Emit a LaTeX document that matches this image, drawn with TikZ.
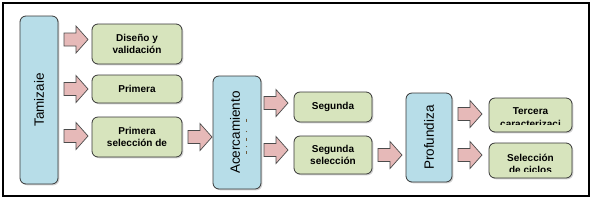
\documentclass[tikz,border=0pt]{standalone}
\usepackage{fontspec}
\setmainfont{Liberation Sans}
\usetikzlibrary{shadows}
\definecolor{bluefill}{RGB}{183,221,232}
\definecolor{greenfill}{RGB}{215,228,189}
\definecolor{pinkfill}{RGB}{230,185,184}
\definecolor{edgecol}{RGB}{55,55,55}
\definecolor{arrowedge}{RGB}{75,75,75}
\definecolor{markcol}{RGB}{110,90,60}
\tikzset{pics/blockarrow/.style={code={
  \draw[barrow] (0,-6.5)--(12,-6.5)--(12,-13.5)--(24,0)--(12,13.5)--(12,6.5)--(0,6.5)--cycle;}}}
\begin{document}
\begin{tikzpicture}[x=1pt,y=-1pt,
 boxbase/.style={draw=edgecol, line width=0.8pt, rounded corners=6pt,
   drop shadow={shadow xshift=1.3pt,shadow yshift=-1.3pt,opacity=0.35},
   inner sep=0pt, align=center},
 bluebox/.style={boxbase, fill=bluefill},
 greenbox/.style={boxbase, fill=greenfill, font=\fontsize{10}{12.5}\selectfont\bfseries},
 gtext/.style={inner sep=0pt, align=center, font=\fontsize{10}{12.5}\selectfont\bfseries},
 vlabel/.style={rotate=90, inner sep=0pt, font=\fontsize{13.5}{16}\selectfont},
 barrow/.style={draw=arrowedge, fill=pinkfill, line width=0.7pt},
 frame/.style={draw=black, line width=1.2pt}
]
\useasboundingbox (0,0) rectangle (593,202);
\fill[white] (0,0) rectangle (593,202);
\draw[frame] (3,3) rectangle (589,196);

% Tamizaie column
\node[bluebox, minimum width=38pt, minimum height=168pt] (tam) at (39,100) {};
\node[vlabel] (tamlab) at (tam.center) {Tamizaie};

\pic (ta1) at (64,39.5) {blockarrow};
\pic (ta2) at (64,89) {blockarrow};
\pic (ta3) at (64,136) {blockarrow};

\node[greenbox, minimum width=90pt, minimum height=40pt] (g1) at (137,44) {Diseño y\\validación};
\node[greenbox, minimum width=90pt, minimum height=28pt] (g2) at (137,89) {Primera};
\node[greenbox, minimum width=90pt, minimum height=40pt] (g3) at (137,137) {Primera\\selección de};

\pic (ga) at (188,137) {blockarrow};

% Acercamiento column
\node[bluebox, minimum width=48pt, minimum height=113pt] (acer) at (237,132.5) {};
\node[vlabel] (acerlab) at (235,132.5) {Acercamiento};
\draw[markcol, line width=0.8pt] (246.5,118.5) -- (246.5,121.5)
  (246.5,137.5) -- (246.5,140.5) (246.5,151) -- (246.5,154);
\fill[markcol] (246.5,131.5) circle (0.7pt) (246.5,146.5) circle (0.7pt);

\pic (aa1) at (264,103) {blockarrow};
\pic (aa2) at (264,150) {blockarrow};

\node[greenbox, minimum width=78pt, minimum height=30pt] (s1) at (333,107) {Segunda};
\node[greenbox, minimum width=78pt, minimum height=38pt] (s2) at (333,155) {Segunda\\selección};

\pic (sa) at (378,155) {blockarrow};

% Profundiza column
\node[bluebox, minimum width=46pt, minimum height=89pt] (prof) at (429,137.5) {};
\node[vlabel] (proflab) at (prof.center) {Profundiza};

\pic (pa1) at (458,114) {blockarrow};
\pic (pa2) at (458,155) {blockarrow};

\node[greenbox, minimum width=83pt, minimum height=34pt] (t1) at (530.5,115) {};
\begin{scope}
  \clip (489,96) rectangle (572,124.5);
  \node[gtext] (t1lab) at (530.5,117.5) {Tercera\\caracterizaci};
\end{scope}
\node[greenbox, minimum width=83pt, minimum height=35pt] (t2) at (530.5,160.5) {};
\begin{scope}
  \clip (489,141) rectangle (572,171);
  \node[gtext] (t2lab) at (530.5,164) {Selección\\de ciclos};
\end{scope}
\end{tikzpicture}
\end{document}
